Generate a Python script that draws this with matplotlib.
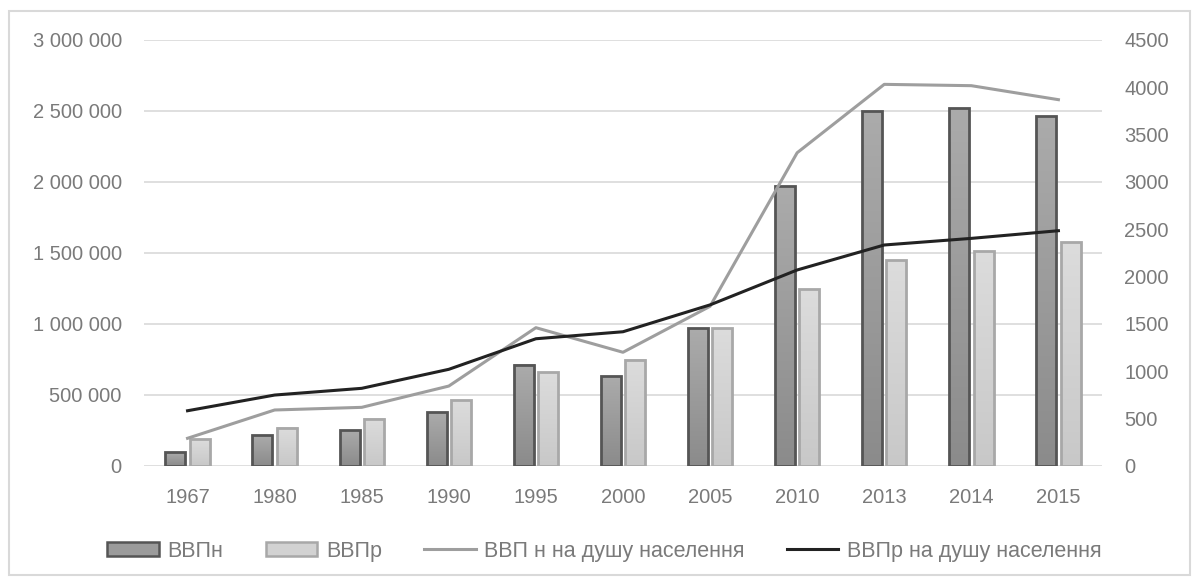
import matplotlib

matplotlib.use("Agg")
import matplotlib.pyplot as plt
import numpy as np
from matplotlib.colors import LinearSegmentedColormap
from matplotlib.patches import Rectangle
from matplotlib.ticker import FuncFormatter, MultipleLocator

years = ["1967", "1980", "1985", "1990", "1995", "2000", "2005", "2010", "2013", "2014", "2015"]
gdp_nominal = [97000, 215000, 252000, 378000, 712000, 629000, 967000, 1971000, 2499000, 2518000, 2461000]
gdp_real = [187000, 269000, 332000, 460000, 658000, 747000, 967000, 1247000, 1448000, 1511000, 1575000]
gdp_nominal_pc = [290, 589, 617, 842, 1459, 1199, 1685, 3308, 4031, 4017, 3869]
gdp_real_pc = [581, 747, 818, 1019, 1342, 1416, 1700, 2069, 2333, 2403, 2484]

labels = ["ВВПн", "ВВПр", "ВВП н на душу населення", "ВВПр на душу населення"]

TEXT = "#7a7a7a"
GRID = "#d9d9d9"


def gradient_bars(ax, bars, bottom_col, top_col):
    cmap = LinearSegmentedColormap.from_list("g", [bottom_col, top_col])
    grad = np.linspace(0, 1, 256).reshape(-1, 1)
    for b in bars:
        x0, w, h = b.get_x(), b.get_width(), b.get_height()
        ax.imshow(grad, extent=(x0, x0 + w, 0, h), origin="lower", aspect="auto",
                  cmap=cmap, zorder=2, interpolation="bilinear")


def main() -> None:
    plt.rcParams.update({
        "font.family": ["Liberation Sans", "DejaVu Sans"],
        "font.size": 14.5,
        "text.color": TEXT,
        "xtick.color": TEXT,
        "ytick.color": TEXT,
    })
    fig = plt.figure(figsize=(11.97, 5.82), dpi=100)
    ax = fig.add_axes([0.1203, 0.1998, 0.8003, 0.7315])
    ax2 = ax.twinx()

    x = np.arange(len(years))
    w = 0.23
    off = 0.14
    b1 = ax.bar(x - off, gdp_nominal, w, facecolor="none", edgecolor="#555555", linewidth=2.0, zorder=3)
    b2 = ax.bar(x + off, gdp_real, w, facecolor="none", edgecolor="#a8a8a8", linewidth=2.0, zorder=3)
    gradient_bars(ax, b1, "#8b8b8b", "#ababab")
    gradient_bars(ax, b2, "#c8c8c8", "#dcdcdc")

    l1, = ax2.plot(x, gdp_nominal_pc, color="#9e9e9e", linewidth=2.2)
    l2, = ax2.plot(x, gdp_real_pc, color="#222222", linewidth=2.2)

    ax.set_xlim(-0.5, len(years) - 0.5)
    ax.set_ylim(0, 3000000)
    ax2.set_ylim(0, 4500)
    ax.yaxis.set_major_locator(MultipleLocator(500000))
    ax2.yaxis.set_major_locator(MultipleLocator(500))
    ax.yaxis.set_major_formatter(FuncFormatter(lambda v, p: f"{int(v):,}".replace(",", " ")))
    ax.set_xticks(x)
    ax.set_xticklabels(years)
    ax.grid(axis="y", color=GRID, linewidth=1.2, zorder=0)
    ax.set_axisbelow(True)

    for a in (ax, ax2):
        for s in a.spines.values():
            s.set_visible(False)
        a.tick_params(length=0, pad=16)

    handles = [
        Rectangle((0, 0), 1, 1, facecolor="#9b9b9b", edgecolor="#555555", linewidth=1.8),
        Rectangle((0, 0), 1, 1, facecolor="#d2d2d2", edgecolor="#a8a8a8", linewidth=1.8),
        l1,
        l2,
    ]
    fig.legend(handles, labels, loc="center", bbox_to_anchor=(0.505, 0.053), ncol=4,
               frameon=False, handlelength=2.4, handleheight=0.6, handletextpad=0.4,
               columnspacing=1.95, fontsize=15.5)

    fig.add_artist(Rectangle((9 / 1197, 7 / 582), 1181 / 1197, 564 / 582,
                             transform=fig.transFigure, fill=False,
                             edgecolor=GRID, linewidth=1.5))

    fig.savefig("out.png", dpi=100)


if __name__ == "__main__":
    main()
